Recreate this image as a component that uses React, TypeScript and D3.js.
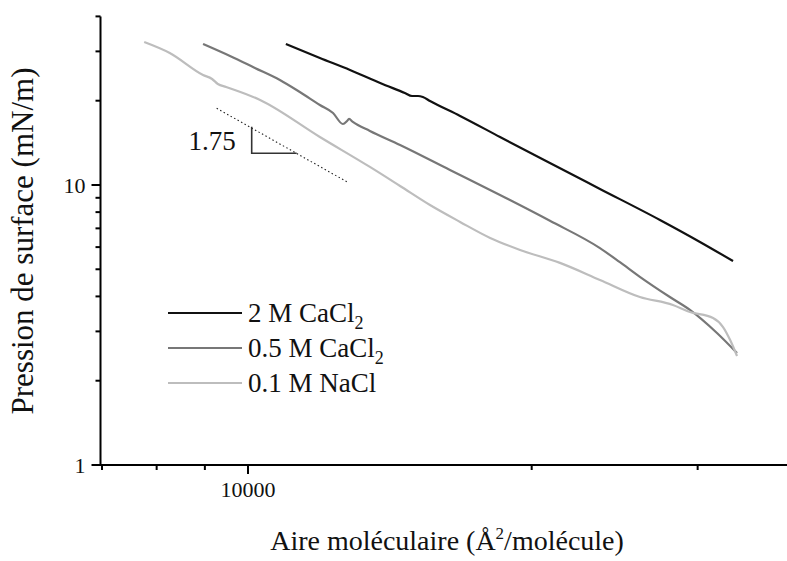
import React from "react";
import * as d3 from "d3";

// ---- data (molecular area Å²/molecule, surface pressure mN/m) ----
const area2M = [10970, 11920, 12830, 13810, 14670, 14930, 15150, 15330, 15600, 16790, 18510, 20910, 23630, 27360, 30170, 32710];
const pi2M = [31.89, 28.42, 25.75, 23.13, 21.31, 20.79, 20.79, 20.62, 19.95, 17.64, 14.84, 11.98, 9.68, 7.5, 6.26, 5.35];

const area05M = [8960, 9570, 10170, 10810, 11350, 11920, 12310, 12610, 12740, 12800, 12920, 13470, 14500, 16380, 18510, 20910, 23630, 24810, 26050, 28030, 29440, 31450, 33030];
const pi05M = [31.89, 28.89, 26.18, 23.71, 21.48, 19.31, 18.07, 16.51, 16.93, 17.21, 16.79, 15.59, 13.89, 11.31, 9.21, 7.45, 5.95, 5.3, 4.7, 3.98, 3.58, 2.96, 2.51];

const areaNaCl = [7760, 8260, 8960, 9160, 9290, 9480, 10300, 11920, 13470, 14500, 15600, 16790, 18070, 19440, 21430, 23630, 26050, 28240, 29440, 31150, 31920, 32470, 33030];
const piNaCl = [32.41, 29.61, 24.71, 23.91, 22.95, 22.39, 20.12, 14.84, 11.6, 9.92, 8.48, 7.38, 6.47, 5.86, 5.27, 4.58, 3.98, 3.73, 3.52, 3.35, 3.11, 2.8, 2.45];

const seriesNames = ["2 M CaCl", "0.5 M CaCl", "0.1 M NaCl"];
const seriesSub = ["2", "2", ""];
const seriesColors = ["#111111", "#777777", "#bdbdbd"];

// slope guide (data coords)
const guideArea = [9263, 12730];
const guidePi = [18.79, 10.27];
const triArea = [10091, 10091, 11263];
const triPi = [16.15, 12.98, 12.98];
const slopeLabel = "1.75";

const xMajorTicks = [10000];
const xMinorTicks = [7000, 8000, 9000, 20000, 30000];
const yMajorTicks = [1, 10];
const yMinorTicks = [2, 3, 4, 5, 6, 7, 8, 9, 20, 30, 40];

const W = 787;
const H = 561;

export default function App() {
  const x = d3.scaleLog().domain([7000, 40000]).range([102, 815.4]);
  const y = d3.scaleLog().domain([1, 40]).range([465, 16.4]);
  const axisX = 100.5;
  const axisY = 465;

  const line = d3
    .line<[number, number]>()
    .x((d) => x(d[0]))
    .y((d) => y(d[1]));
  const smooth = d3
    .line<[number, number]>()
    .x((d) => x(d[0]))
    .y((d) => y(d[1]))
    .curve(d3.curveMonotoneX);

  const series = [
    { a: area2M, p: pi2M },
    { a: area05M, p: pi05M },
    { a: areaNaCl, p: piNaCl },
  ];

  const font = "'Liberation Serif', 'Times New Roman', serif";
  const legendY = [313, 348, 383];

  return (
    <div style={{ position: "fixed", left: 0, top: 0 }}>
      <svg width={W} height={H} style={{ display: "block", background: "#fff", fontFamily: font }}>
        {/* curves */}
        {series.map((s, i) => (
          <path
            key={i}
            d={smooth(s.a.map((v, j) => [v, s.p[j]] as [number, number])) || ""}
            fill="none"
            stroke={seriesColors[i]}
            strokeWidth={2.2}
            strokeLinejoin="round"
          />
        ))}

        {/* slope guide */}
        <path
          d={line(guideArea.map((v, j) => [v, guidePi[j]] as [number, number])) || ""}
          fill="none"
          stroke="#222"
          strokeWidth={1.1}
          strokeDasharray="1.5 2.5"
        />
        <path
          d={line(triArea.map((v, j) => [v, triPi[j]] as [number, number])) || ""}
          fill="none"
          stroke="#333"
          strokeWidth={1.6}
        />
        <text x={x(triArea[0]) - 16} y={y(triPi[1]) - 3} fontSize={27} textAnchor="end" fill="#111" fontFamily={font}>
          {slopeLabel}
        </text>

        {/* axes */}
        <line x1={axisX} x2={axisX} y1={y(40)} y2={axisY + 1} stroke="#000" strokeWidth={2} />
        <line x1={axisX - 1} x2={W} y1={axisY} y2={axisY} stroke="#000" strokeWidth={2} />

        {yMajorTicks.map((t) => (
          <g key={"ym" + t}>
            <line x1={axisX - 9} x2={axisX} y1={y(t)} y2={y(t)} stroke="#000" strokeWidth={2} />
            <text x={axisX - 15} y={y(t)} dy="0.35em" fontSize={22} textAnchor="end" fill="#111" fontFamily={font}>
              {t}
            </text>
          </g>
        ))}
        {yMinorTicks.map((t) => (
          <line key={"yn" + t} x1={axisX - 5} x2={axisX} y1={y(t)} y2={y(t)} stroke="#000" strokeWidth={2} />
        ))}
        {xMajorTicks.map((t) => (
          <g key={"xm" + t}>
            <line x1={x(t)} x2={x(t)} y1={axisY} y2={axisY + 9} stroke="#000" strokeWidth={2} />
            <text x={x(t)} y={497} fontSize={22} textAnchor="middle" fill="#111" fontFamily={font}>
              {t}
            </text>
          </g>
        ))}
        {xMinorTicks.map((t) => (
          <line key={"xn" + t} x1={x(t)} x2={x(t)} y1={axisY} y2={axisY + 5} stroke="#000" strokeWidth={2} />
        ))}

        {/* axis titles */}
        <text x={447} y={550} fontSize={28} textAnchor="middle" fill="#111" fontFamily={font}>
          Aire moléculaire (Å
          <tspan dy={-11} fontSize={17}>2</tspan>
          <tspan dy={11}>/molécule)</tspan>
        </text>
        <text transform="translate(33,241) rotate(-90)" fontSize={31} textAnchor="middle" fill="#111" fontFamily={font}>
          Pression de surface (mN/m)
        </text>

        {/* legend */}
        {seriesNames.map((n, i) => (
          <g key={"lg" + i}>
            <line x1={168} x2={242} y1={legendY[i]} y2={legendY[i]} stroke={seriesColors[i]} strokeWidth={2.2} />
            <text x={248} y={legendY[i] + 9} fontSize={27} fill="#111" fontFamily={font}>
              {n}
              {seriesSub[i] ? (
                <tspan dy={7} fontSize={18}>
                  {seriesSub[i]}
                </tspan>
              ) : null}
            </text>
          </g>
        ))}
      </svg>
    </div>
  );
}
